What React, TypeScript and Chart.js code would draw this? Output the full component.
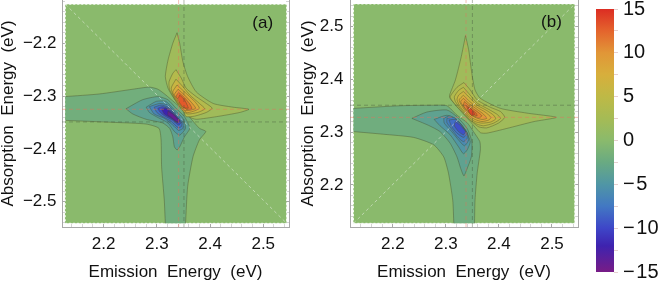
import React, { useEffect, useRef } from "react";
import { Chart, registerables } from "chart.js";

Chart.register(...registerables);

type Pt = [number, number];

const FONT = '"Liberation Sans", Arial, sans-serif';

// shared
const emissionTicks = ["2.2", "2.3", "2.4", "2.5"];
const absorptionTicksA = ["−2.2", "−2.3", "−2.4", "−2.5"];
const absorptionTicksB = ["2.2", "2.3", "2.4", "2.5"];
const colorbarTicks = [-15, -10, -5, 0, 5, 10, 15];
const colorbarRange: Pt = [-15, 15];
const colorStops: [number, number[]][] = [
  [-15, [120, 28, 134]], [-12, [62, 35, 175]], [-10, [62, 70, 200]], [-7.5, [66, 120, 195]],
  [-5, [80, 150, 165]], [-2.5, [105, 170, 130]], [0, [138, 186, 108]], [2.5, [165, 187, 85]],
  [5, [190, 185, 70]], [7.5, [215, 175, 60]], [10, [225, 150, 55]], [12.5, [228, 100, 45]], [15, [220, 45, 35]],
];

// Panel (a) contours
const fieldA: Pt[] = [[2.128, -2.126], [2.544, -2.126], [2.544, -2.541], [2.128, -2.541]];
const diagonalA: Pt[] = [[2.128, -2.126], [2.544, -2.541]];
const redVA: Pt[] = [[2.341, -2.118], [2.341, -2.548]];
const darkVA: Pt[] = [[2.351, -2.118], [2.351, -2.548]];
const redHA: Pt[] = [[2.1218, -2.325], [2.5484, -2.325]];
const darkHA: Pt[] = [[2.1218, -2.349], [2.5484, -2.349]];

const negA1: Pt[] = [[2.128, -2.301], [2.192, -2.296], [2.255, -2.287], [2.286, -2.283], [2.302, -2.287], [2.317, -2.298], [2.352, -2.329], [2.380, -2.361], [2.392, -2.367], [2.380, -2.383], [2.368, -2.415], [2.358, -2.471], [2.354, -2.541], [2.351, -2.541], [2.319, -2.541], [2.316, -2.541], [2.314, -2.497], [2.309, -2.434], [2.308, -2.383], [2.304, -2.361], [2.280, -2.353], [2.223, -2.350], [2.128, -2.346], [2.128, -2.343], [2.128, -2.304]];
const negA2: Pt[] = [[2.242, -2.324], [2.273, -2.307], [2.302, -2.301], [2.321, -2.307], [2.336, -2.323], [2.352, -2.339], [2.362, -2.361], [2.352, -2.377], [2.343, -2.396], [2.338, -2.402], [2.333, -2.396], [2.330, -2.377], [2.324, -2.361], [2.311, -2.351], [2.280, -2.344], [2.255, -2.334]];
const negA3: Pt[] = [[2.280, -2.321], [2.299, -2.310], [2.317, -2.310], [2.333, -2.326], [2.349, -2.342], [2.354, -2.361], [2.343, -2.374], [2.333, -2.367], [2.321, -2.351], [2.299, -2.339], [2.286, -2.331]];
const negA4: Pt[] = [[2.286, -2.320], [2.305, -2.314], [2.321, -2.317], [2.336, -2.333], [2.349, -2.348], [2.349, -2.361], [2.341, -2.365], [2.330, -2.355], [2.314, -2.342], [2.295, -2.334]];
const negA5: Pt[] = [[2.295, -2.321], [2.308, -2.317], [2.321, -2.321], [2.336, -2.336], [2.347, -2.351], [2.346, -2.358], [2.340, -2.360], [2.327, -2.348], [2.311, -2.339], [2.300, -2.331]];
const negA6: Pt[] = [[2.302, -2.323], [2.311, -2.320], [2.324, -2.325], [2.336, -2.338], [2.345, -2.350], [2.341, -2.355], [2.330, -2.346], [2.314, -2.337], [2.305, -2.329]];
const negA7: Pt[] = [[2.309, -2.325], [2.317, -2.323], [2.330, -2.333], [2.343, -2.346], [2.340, -2.351], [2.327, -2.342], [2.314, -2.334]];
const negA8: Pt[] = [[2.321, -2.329], [2.330, -2.334], [2.341, -2.346], [2.338, -2.349], [2.327, -2.340], [2.321, -2.336]];

const posA1: Pt[] = [[2.338, -2.180], [2.343, -2.200], [2.349, -2.235], [2.358, -2.263], [2.374, -2.292], [2.406, -2.314], [2.443, -2.321], [2.473, -2.325], [2.456, -2.331], [2.412, -2.339], [2.374, -2.344], [2.362, -2.340], [2.352, -2.329], [2.330, -2.301], [2.321, -2.285], [2.316, -2.263], [2.321, -2.232], [2.330, -2.200]];
const posA2: Pt[] = [[2.336, -2.250], [2.346, -2.266], [2.355, -2.285], [2.374, -2.301], [2.393, -2.314], [2.404, -2.323], [2.393, -2.331], [2.371, -2.338], [2.355, -2.339], [2.351, -2.331], [2.336, -2.310], [2.324, -2.288], [2.323, -2.273], [2.330, -2.257]];
const posA3: Pt[] = [[2.336, -2.268], [2.348, -2.281], [2.362, -2.298], [2.380, -2.314], [2.390, -2.324], [2.377, -2.331], [2.358, -2.334], [2.350, -2.329], [2.333, -2.304], [2.327, -2.285]];
const posA4: Pt[] = [[2.338, -2.279], [2.352, -2.292], [2.371, -2.310], [2.380, -2.323], [2.368, -2.329], [2.355, -2.331], [2.336, -2.307], [2.330, -2.292]];
const posA5: Pt[] = [[2.340, -2.287], [2.352, -2.298], [2.365, -2.312], [2.373, -2.323], [2.362, -2.327], [2.352, -2.327], [2.338, -2.307], [2.333, -2.297]];
const posA6: Pt[] = [[2.341, -2.293], [2.352, -2.303], [2.362, -2.315], [2.366, -2.324], [2.355, -2.325], [2.343, -2.309], [2.336, -2.301]];
const posA7: Pt[] = [[2.343, -2.298], [2.352, -2.307], [2.358, -2.319], [2.359, -2.323], [2.349, -2.321], [2.340, -2.307]];
const contoursA: [Pt[], number][] = [
  [negA1, -1.8], [negA2, -3.5], [negA3, -5], [negA4, -6.5], [negA5, -8], [negA6, -10], [negA7, -12], [negA8, -14],
  [posA1, 2], [posA2, 4], [posA3, 6], [posA4, 8], [posA5, 10], [posA6, 12], [posA7, 13],
];

// Panel (b) contours
const fieldB: Pt[] = [[2.126, 2.127], [2.543, 2.127], [2.543, 2.543], [2.126, 2.543]];
const diagonalB: Pt[] = [[2.126, 2.127], [2.543, 2.543]];
const redVB: Pt[] = [[2.338, 2.12], [2.338, 2.5506]];
const darkVB: Pt[] = [[2.350, 2.12], [2.350, 2.5506]];
const redHB: Pt[] = [[2.1194, 2.328], [2.549, 2.328]];
const darkHB: Pt[] = [[2.1194, 2.351], [2.549, 2.351]];

const negB1: Pt[] = [[2.126, 2.345], [2.214, 2.350], [2.277, 2.351], [2.302, 2.350], [2.321, 2.332], [2.340, 2.318], [2.352, 2.301], [2.364, 2.282], [2.365, 2.266], [2.359, 2.222], [2.355, 2.171], [2.354, 2.127], [2.351, 2.127], [2.318, 2.127], [2.315, 2.127], [2.313, 2.171], [2.305, 2.222], [2.296, 2.253], [2.277, 2.276], [2.239, 2.290], [2.182, 2.296], [2.126, 2.301], [2.126, 2.304], [2.126, 2.342]];
const negB2: Pt[] = [[2.236, 2.326], [2.264, 2.338], [2.302, 2.342], [2.321, 2.329], [2.340, 2.307], [2.349, 2.282], [2.348, 2.253], [2.339, 2.228], [2.334, 2.217], [2.328, 2.231], [2.321, 2.253], [2.308, 2.279], [2.289, 2.301], [2.267, 2.313]];
const negB3: Pt[] = [[2.278, 2.324], [2.302, 2.332], [2.321, 2.323], [2.337, 2.304], [2.346, 2.282], [2.340, 2.266], [2.333, 2.259], [2.324, 2.272], [2.308, 2.295], [2.289, 2.312]];
const negB4: Pt[] = [[2.296, 2.326], [2.308, 2.331], [2.324, 2.320], [2.340, 2.299], [2.343, 2.285], [2.335, 2.274], [2.324, 2.285], [2.311, 2.301], [2.297, 2.317]];
const negB5: Pt[] = [[2.302, 2.326], [2.315, 2.328], [2.327, 2.317], [2.340, 2.298], [2.340, 2.288], [2.333, 2.282], [2.322, 2.291], [2.310, 2.307], [2.302, 2.318]];
const negB6: Pt[] = [[2.306, 2.323], [2.318, 2.324], [2.330, 2.312], [2.339, 2.296], [2.333, 2.290], [2.321, 2.298], [2.311, 2.310]];
const negB7: Pt[] = [[2.318, 2.320], [2.327, 2.313], [2.337, 2.301], [2.333, 2.295], [2.324, 2.301], [2.316, 2.312]];

const posB1: Pt[] = [[2.337, 2.483], [2.343, 2.456], [2.349, 2.411], [2.355, 2.380], [2.365, 2.364], [2.403, 2.345], [2.453, 2.336], [2.508, 2.328], [2.466, 2.320], [2.415, 2.307], [2.377, 2.298], [2.365, 2.299], [2.346, 2.320], [2.321, 2.348], [2.308, 2.364], [2.307, 2.370], [2.318, 2.399], [2.329, 2.443]];
const posB2: Pt[] = [[2.334, 2.394], [2.346, 2.380], [2.359, 2.361], [2.384, 2.347], [2.403, 2.339], [2.411, 2.328], [2.399, 2.317], [2.377, 2.308], [2.362, 2.310], [2.349, 2.320], [2.327, 2.342], [2.313, 2.358], [2.308, 2.367], [2.321, 2.385]];
const posB3: Pt[] = [[2.333, 2.385], [2.346, 2.370], [2.359, 2.355], [2.381, 2.343], [2.396, 2.334], [2.403, 2.326], [2.390, 2.317], [2.371, 2.312], [2.359, 2.315], [2.346, 2.323], [2.327, 2.345], [2.318, 2.358], [2.316, 2.367], [2.324, 2.379]];
const posB4: Pt[] = [[2.333, 2.377], [2.346, 2.364], [2.359, 2.351], [2.377, 2.341], [2.390, 2.332], [2.394, 2.325], [2.384, 2.319], [2.368, 2.317], [2.355, 2.320], [2.343, 2.329], [2.328, 2.347], [2.321, 2.361], [2.324, 2.370]];
const posB5: Pt[] = [[2.333, 2.370], [2.345, 2.358], [2.359, 2.347], [2.374, 2.338], [2.385, 2.328], [2.381, 2.323], [2.368, 2.320], [2.355, 2.324], [2.343, 2.332], [2.330, 2.350], [2.325, 2.361]];
const posB6: Pt[] = [[2.333, 2.364], [2.345, 2.353], [2.359, 2.343], [2.371, 2.334], [2.377, 2.326], [2.368, 2.324], [2.355, 2.328], [2.343, 2.336], [2.332, 2.350], [2.328, 2.358]];
const posB7: Pt[] = [[2.335, 2.358], [2.346, 2.348], [2.359, 2.339], [2.368, 2.331], [2.362, 2.327], [2.352, 2.331], [2.342, 2.339], [2.333, 2.350]];
const posB8: Pt[] = [[2.338, 2.351], [2.347, 2.344], [2.357, 2.336], [2.359, 2.331], [2.351, 2.334], [2.342, 2.342]];
const posB9: Pt[] = [[2.342, 2.347], [2.349, 2.343], [2.354, 2.334], [2.349, 2.331], [2.343, 2.339]];
const contoursB: [Pt[], number][] = [
  [negB1, -2], [negB2, -3.5], [negB3, -5], [negB4, -6], [negB5, -7], [negB6, -8], [negB7, -9.5],
  [posB1, 2], [posB2, 3.5], [posB3, 5], [posB4, 6.5], [posB5, 8], [posB6, 9.5], [posB7, 11], [posB8, 12.5], [posB9, 14],
];

function levelColor(v: number): string {
  for (let i = 0; i < colorStops.length - 1; i++) {
    const [a, ca] = colorStops[i];
    const [b, cb] = colorStops[i + 1];
    if (v >= a && v <= b) {
      const t = (v - a) / (b - a);
      const c = ca.map((k, j) => Math.round(k + (cb[j] - k) * t));
      return `rgb(${c[0]},${c[1]},${c[2]})`;
    }
  }
  return "rgb(138,186,108)";
}

const pts = (p: Pt[]) => p.map(([x, y]) => ({ x, y }));
const closed = (p: Pt[]) => pts([...p, p[0]]);

// the stroke of a contour leaves out the stretches that run along the field edge
function strokePoints(p: Pt[], field: Pt[]) {
  const xs = field.map((f) => f[0]);
  const ys = field.map((f) => f[1]);
  const ring = [...p, p[0]];
  const out: any[] = [];
  ring.forEach(([x, y], i) => {
    if (i > 0) {
      const [px, py] = ring[i - 1];
      const sameX = x === px && xs.includes(x);
      const sameY = y === py && ys.includes(y);
      if (sameX || sameY) out.push({ x: null, y: null });
    }
    out.push({ x, y });
  });
  return out;
}

function polygon(p: Pt[], level: number, field: Pt[]) {
  return [
    {
      data: closed(p),
      borderWidth: 0,
      borderColor: "rgba(0,0,0,0)",
      backgroundColor: levelColor(level),
      fill: "shape",
      pointRadius: 0,
      tension: 0.2,
    },
    {
      data: strokePoints(p, field),
      borderColor: "rgba(70,75,40,0.5)",
      borderWidth: 0.8,
      fill: false,
      pointRadius: 0,
      tension: 0.2,
      spanGaps: false,
    },
  ];
}

function rule(p: Pt[], color: string, dash: number[], width = 0.9) {
  return {
    data: pts(p),
    borderColor: color,
    borderWidth: width,
    borderDash: dash,
    fill: false,
    pointRadius: 0,
    tension: 0,
  };
}

const panelLabel = (text: string, x: number, y: number) => ({
  id: "panelLabel",
  afterDatasetsDraw(chart: any) {
    const { ctx, scales } = chart;
    ctx.save();
    ctx.font = `17px ${FONT}`;
    ctx.fillStyle = "#111";
    ctx.textAlign = "center";
    ctx.textBaseline = "middle";
    ctx.fillText(text, scales.x.getPixelForValue(x), scales.y.getPixelForValue(y));
    ctx.restore();
  },
});

function panel(
  canvas: HTMLCanvasElement,
  cfg: {
    field: Pt[]; contours: [Pt[], number][]; lines: any[]; xr: Pt; yr: Pt; yTicks: string[];
    left: number; rightPad: number; labelPad: number; label: [string, number, number];
  }
) {
  const layers = [
    { data: closed(cfg.field), borderColor: "rgba(255,255,255,0.9)", borderWidth: 1, borderDash: [2, 2], backgroundColor: levelColor(0), fill: "shape", pointRadius: 0, tension: 0.0001 },
    ...cfg.contours.flatMap(([p, l]) => polygon(p, l, cfg.field)),
    ...cfg.lines,
  ];
  const tickColor = (c: any) => {
    const v = c.tick ? Math.round(Math.abs(c.tick.value) * 100) : 0;
    return v % 10 === 0 ? "#a8a8a8" : "#d4d4d4";
  };
  const labelOf = (v: number, list: string[], base: string[]) => {
    const s = Math.abs(v).toFixed(2);
    const i = base.findIndex((b) => b + "0" === s);
    return i >= 0 ? list[i] : "";
  };
  const flat = (s: any) => { s.paddingTop = 0; s.paddingBottom = 0; s.paddingLeft = 0; s.paddingRight = 0; };
  return new Chart(canvas, {
    type: "line",
    data: { datasets: layers.reverse() as any },
    plugins: [panelLabel(...cfg.label)],
    options: {
      animation: false,
      responsive: false,
      layout: { padding: { left: 0, right: cfg.rightPad, top: 0, bottom: 0 } },
      plugins: { legend: { display: false }, tooltip: { enabled: false } },
      scales: {
        x: {
          type: "linear", min: cfg.xr[0], max: cfg.xr[1], position: "bottom",
          afterFit: (s: any) => { s.height = 54; flat(s); },
          border: { color: "#a8a8a8", width: 1 },
          grid: { drawOnChartArea: false, tickLength: -3, color: tickColor },
          ticks: { stepSize: 0.02, includeBounds: false, autoSkip: false, maxRotation: 0, padding: 10, color: "#111", font: { family: FONT, size: 17 }, callback: (v: any) => labelOf(v, emissionTicks, emissionTicks) },
          title: { display: true, text: "Emission  Energy  (eV)", color: "#111", font: { family: FONT, size: 17, lineHeight: 1 }, padding: { top: 0, bottom: 0 } },
        },
        y: {
          type: "linear", min: cfg.yr[0], max: cfg.yr[1], position: "left",
          afterFit: (s: any) => { s.width = cfg.left; flat(s); },
          border: { color: "#a8a8a8", width: 1 },
          grid: { drawOnChartArea: false, tickLength: -3, color: tickColor },
          ticks: { stepSize: 0.02, includeBounds: false, autoSkip: false, padding: cfg.labelPad, color: "#111", font: { family: FONT, size: 17 }, callback: (v: any) => labelOf(v, cfg.yTicks, emissionTicks) },
          title: { display: true, text: "Absorption  Energy  (eV)", color: "#111", font: { family: FONT, size: 17, lineHeight: 1 }, padding: { top: 0, bottom: 0 } },
        },
        y2: {
          type: "linear", min: cfg.yr[0], max: cfg.yr[1], position: "right",
          afterFit: (s: any) => { s.width = 0; flat(s); },
          border: { color: "#a8a8a8", width: 1 },
          grid: { drawOnChartArea: false, tickLength: -3, color: tickColor },
          ticks: { stepSize: 0.02, includeBounds: false, autoSkip: false, display: false },
        },
      },
    } as any,
  });
}

const RED = "rgba(232,110,90,0.5)";
const DARK = "rgba(70,85,60,0.45)";
const WHITE = "rgba(235,240,230,0.6)";

function colorbar(canvas: HTMLCanvasElement) {
  return new Chart(canvas, {
    type: "bar",
    data: {
      labels: ["scale"],
      datasets: [{
        data: [colorbarRange],
        barPercentage: 1,
        categoryPercentage: 1,
        backgroundColor: (c: any) => {
          const { ctx, chartArea } = c.chart;
          if (!chartArea) return "#888";
          const g = ctx.createLinearGradient(0, chartArea.bottom, 0, chartArea.top);
          colorStops.forEach(([v]) => g.addColorStop((v + 15) / 30, levelColor(v)));
          return g;
        },
      }] as any,
    },
    options: {
      animation: false,
      responsive: false,
      layout: { padding: { left: 6, right: 0, top: 9, bottom: 9 } },
      plugins: { legend: { display: false }, tooltip: { enabled: false } },
      scales: {
        x: { display: false },
        y: {
          position: "right", min: -15, max: 15,
          afterFit: (s: any) => { s.width = 50; s.paddingTop = 0; s.paddingBottom = 0; },
          border: { display: false },
          grid: { drawOnChartArea: false, tickLength: 4, color: "#e6d0d0" },
          ticks: { stepSize: 2.5, autoSkip: false, padding: 5, color: "#111", font: { family: FONT, size: 20 }, callback: (v: any) => colorbarTicks.includes(v) ? (v < 0 ? `−\u200a${-v}` : `${v}`) : "" },
        },
      },
    } as any,
  });
}

export default function App() {
  const a = useRef<HTMLCanvasElement>(null);
  const b = useRef<HTMLCanvasElement>(null);
  const c = useRef<HTMLCanvasElement>(null);
  useEffect(() => {
    const ca = panel(a.current!, {
      field: fieldA, contours: contoursA, xr: [2.1218, 2.5484], yr: [-2.548, -2.118], yTicks: absorptionTicksA,
      left: 62, rightPad: 11, labelPad: 8.5, label: ["(a)", 2.499, -2.162],
      lines: [rule(diagonalA, WHITE, [3, 3], 0.9), rule(redVA, RED, [4, 3]), rule(darkVA, DARK, [4, 3]), rule(redHA, RED, [4, 3]), rule(darkHA, DARK, [4, 3])],
    });
    const cb = panel(b.current!, {
      field: fieldB, contours: contoursB, xr: [2.1194, 2.549], yr: [2.12, 2.5506], yTicks: absorptionTicksB,
      left: 50, rightPad: 12, labelPad: 9.5, label: ["(b)", 2.499, 2.508],
      lines: [rule(diagonalB, WHITE, [3, 3], 0.9), rule(redVB, RED, [4, 3]), rule(darkVB, DARK, [4, 3]), rule(redHB, RED, [4, 3]), rule(darkHB, DARK, [4, 3])],
    });
    const cc = colorbar(c.current!);
    return () => { ca.destroy(); cb.destroy(); cc.destroy(); };
  }, []);
  const abs = (left: number): React.CSSProperties => ({ position: "absolute", left, top: 0, filter: "blur(0.45px)" });
  return (
    <div style={{ position: "fixed", left: 0, top: 0, width: 664, height: 281, background: "#fff", overflow: "hidden" }}>
      <canvas ref={a} width={300} height={281} style={abs(0)} />
      <canvas ref={b} width={290} height={281} style={abs(300)} />
      <canvas ref={c} width={74} height={281} style={abs(590)} />
    </div>
  );
}
